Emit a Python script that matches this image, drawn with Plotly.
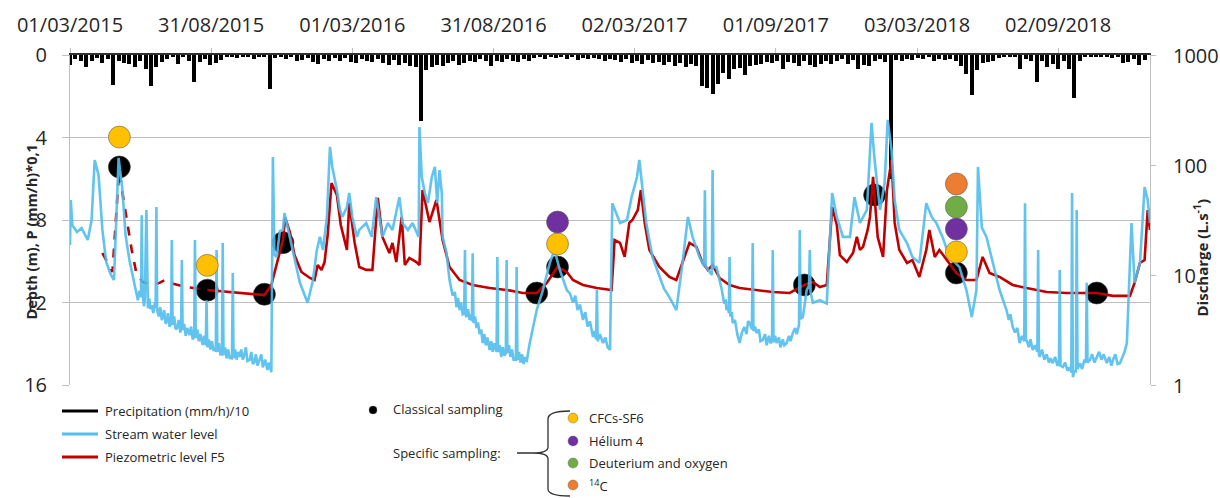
import math
import plotly.graph_objects as go
import pandas as pd

START = pd.Timestamp("2015-03-01")

# ---------------- data ----------------
tick_dates = ["2015-03-01", "2015-08-31", "2016-03-01", "2016-08-31",
              "2017-03-02", "2017-09-01", "2018-03-03", "2018-09-02"]
tick_labels = ["01/03/2015", "31/08/2015", "01/03/2016", "31/08/2016",
               "02/03/2017", "01/09/2017", "03/03/2018", "02/09/2018"]
left_ticks = [0, 4, 8, 12, 16]
right_ticks = [1, 10, 100, 1000]

# weekly precipitation, (mm/h)/10, one value per week from 2015-03-01
precip_week = [
    0.5, 0.2, 0.3, 0.6, 0.3, 0.15, 0.4, 0.2, 1.45, 0.3,
    0.4, 0.45, 0.6, 0.3, 0.7, 1.5, 0.6, 0.35, 0.2, 0.1,
    0.45, 0.1, 0.3, 1.3, 0.35, 0.2, 0.5, 0.4, 0.25, 0.1,
    0.1, 0.15, 0.05, 0.1, 0.2, 0.1, 0.05, 1.65, 0.15, 0.05,
    0.2, 0.1, 0.3, 0.25, 0.15, 0.35, 0.45, 0.2, 0.3, 0.15,
    0.3, 0.15, 0.35, 0.4, 0.2, 0.3, 0.35, 0.2, 0.4, 0.5,
    0.25, 0.5, 0.4, 0.55, 0.6, 3.2, 0.75, 0.6, 0.5, 0.55,
    0.4, 0.3, 0.5, 0.4, 0.3, 0.35, 0.2, 0.3, 0.55, 0.3,
    0.35, 0.2, 0.3, 0.35, 0.2, 0.3, 0.15, 0.1, 0.2, 0.1,
    0.15, 0.1, 0.2, 0.1, 0.25, 0.15, 0.2, 0.15, 0.2, 0.3,
    0.2, 0.25, 0.35, 0.2, 0.4, 0.3, 0.45, 0.25, 0.4, 0.35,
    0.5, 0.35, 0.55, 0.4, 0.6, 0.45, 0.55, 1.5, 1.6, 1.9,
    1.4, 0.85, 1.15, 0.7, 0.65, 0.95, 0.55, 0.5, 0.45, 0.35,
    0.4, 0.3, 0.7, 0.35, 0.4, 0.55, 0.3, 0.5, 0.6, 0.45,
    0.3, 0.45, 0.3, 0.2, 0.45, 0.25, 0.7, 0.5, 0.55, 0.3,
    0.2, 0.35, 6.0, 0.25, 0.3, 0.2, 0.25, 0.15, 0.2, 0.1,
    0.3, 0.2, 0.25, 0.2, 0.3, 0.55, 0.9, 1.95, 0.75, 0.4,
    0.35, 0.3, 0.15, 0.1, 0.05, 0.1, 0.7, 0.2, 0.3, 1.3,
    0.3, 0.6, 0.45, 0.7, 0.3, 0.7, 2.1, 0.3, 0.1, 0.1,
    0.05, 0.1, 0.05, 0.15, 0.1, 0.4, 0.35, 0.2, 0.5, 0.25,
]

# stream water level as discharge (L/s): (days since 2015-03-01, value)
stream_points = [
    (0, 18.7), (1, 48), (3, 28.5), (9, 24.6), (15, 26.7), (23, 20.8), (28, 31.6), (32, 111), (37, 81),
    (42, 25.7), (47, 13.1), (53, 10), (57, 9.0), (60, 39), (63, 116), (68, 59), (72, 23.1), (77, 13.7),
    (82, 9.0), (88, 5.9), (90, 7.2), (92, 6.3), (93, 35), (94, 6.6), (96, 5.2), (97, 6.0), (99, 39),
    (101, 5.0), (103, 6.1), (104, 4.9), (106, 5.3), (108, 4.5), (110, 5.6), (111, 5.0), (112, 41.5),
    (113, 4.8), (115, 4.2), (117, 5.1), (119, 3.9), (120, 4.07), (122, 4.8), (124, 3.6), (125, 3.74),
    (127, 4.5), (129, 3.4), (131, 3.6), (132, 20.8), (133, 3.51), (135, 4.2), (137, 3.2), (139, 3.3),
    (141, 3.9), (143, 3.0), (144, 3.2), (145, 13.7), (146, 3.16), (148, 3.6), (150, 2.8), (152, 3.3),
    (155, 2.85), (157, 3.4), (159, 2.6), (161, 2.75), (162, 20.8), (163, 2.67), (165, 3.2), (167, 2.5),
    (169, 2.9), (172, 2.31), (174, 2.8), (176, 2.3), (177, 5.9), (178, 2.2), (180, 2.6), (182, 2.1),
    (184, 2.5), (186, 2.08), (189, 2.05), (190, 16.9), (191, 2.0), (193, 2.4), (195, 1.9), (197, 1.9),
    (198, 19.5), (199, 1.87), (201, 2.2), (203, 1.75), (205, 2.1), (207, 1.76), (210, 1.75), (211, 10.4),
    (212, 1.76), (214, 2.1), (216, 1.7), (218, 2.0), (220, 1.80), (222, 2.1), (224, 1.7), (226, 1.87),
    (228, 2.2), (230, 1.65), (233, 1.69), (235, 2.0), (237, 1.55), (239, 1.62), (241, 1.9), (243, 1.5),
    (246, 1.69), (248, 1.9), (250, 1.45), (251, 1.52), (253, 1.7), (256, 1.37), (258, 1.6), (261, 1.31),
    (263, 118), (265, 15.2), (268, 14.6), (272, 25), (276, 25.7), (278, 36.6), (285, 22.2), (289, 16.9),
    (298, 8.5), (308, 5.6), (315, 9.0), (320, 16.9), (324, 22.2), (328, 16.9), (333, 33.7), (337, 146),
    (340, 96), (346, 59), (350, 39), (353, 33.7), (359, 41.5), (362, 55.6), (366, 33.7), (372, 22.2),
    (375, 25.7), (384, 29.7), (391, 22.2), (397, 51), (401, 33.7), (405, 22.2), (412, 29.7), (418, 25.7),
    (427, 51), (431, 29.7), (438, 25.7), (444, 29.7), (452, 22.2), (453, 221), (456, 77.8), (460, 55.6),
    (464, 45), (469, 77.8), (473, 96), (476, 45), (479, 90), (482, 55), (483, 22.2), (488, 16), (492, 9.0),
    (496, 6.5), (499, 7.0), (501, 5.1), (503, 6.2), (505, 4.8), (507, 5.6), (509, 4.4), (511, 4.5),
    (512, 16.9), (513, 4.3), (514, 4.15), (516, 4.9), (518, 3.9), (520, 4.4), (521, 3.8), (522, 15.8),
    (523, 3.66), (525, 4.2), (527, 3.3), (529, 3.7), (531, 2.9), (533, 3.2), (535, 2.41), (537, 2.9),
    (539, 2.3), (541, 2.7), (544, 2.08), (546, 2.5), (548, 2.0), (550, 2.4), (553, 2.0), (554, 14.6),
    (555, 2.0), (557, 2.3), (559, 1.8), (561, 2.2), (563, 1.85), (565, 1.95), (566, 13.7), (567, 1.95),
    (569, 2.3), (571, 1.8), (573, 2.1), (575, 1.7), (578, 1.7), (579, 11.8), (580, 1.69), (582, 2.0),
    (584, 1.6), (586, 1.9), (588, 1.55), (590, 1.8), (592, 1.62), (594, 2.0), (596, 2.41), (605, 4.8),
    (613, 7.3), (622, 12.9), (628, 16.9), (635, 11.1), (644, 7.3), (648, 6.8), (652, 5.6), (655, 6.5),
    (658, 4.8), (661, 5.4), (665, 3.9), (668, 4.6), (671, 3.4), (674, 3.8), (678, 2.73), (680, 3.1),
    (682, 2.6), (683, 7.3), (684, 2.5), (687, 2.9), (691, 2.41), (694, 2.7), (697, 2.2), (700, 2.08),
    (703, 45), (713, 29.7), (722, 31.6), (728, 51), (735, 77.8), (738, 111), (742, 59), (747, 29.7),
    (755, 14.6), (764, 9.6), (770, 7.5), (777, 6.3), (786, 4.8), (794, 12.9), (801, 33.7), (807, 22.2),
    (816, 14.6), (822, 12), (823, 59), (824, 12), (827, 11.1), (832, 10), (833, 90), (834, 11.8),
    (838, 11.8), (845, 7.3), (848, 5.5), (850, 6.0), (851, 4.8), (853, 5.2), (854, 4.5), (855, 14.6),
    (856, 4.2), (858, 4.6), (859, 3.66), (862, 3.9), (865, 2.9), (868, 2.41), (871, 3.0), (874, 3.37),
    (877, 2.9), (879, 3.8), (881, 3.66), (884, 3.2), (885, 19.5), (886, 3.1), (888, 3.4), (890, 2.97),
    (893, 3.2), (895, 2.5), (898, 2.56), (901, 2.9), (903, 2.3), (906, 2.8), (908, 2.4), (910, 2.5),
    (911, 16.9), (912, 2.45), (914, 2.8), (916, 2.41), (919, 2.7), (921, 2.2), (924, 2.6), (926, 2.3),
    (929, 2.41), (932, 2.8), (934, 2.5), (937, 2.97), (940, 3.3), (942, 2.9), (945, 3.5), (946, 25.7),
    (947, 4.0), (950, 4.15), (955, 7.3), (958, 8), (959, 16.9), (960, 7), (963, 5.6), (972, 5.9),
    (981, 5.5), (988, 55.6), (994, 33.7), (1002, 22.2), (1011, 22.2), (1017, 51), (1024, 29.7),
    (1033, 39), (1039, 241), (1043, 111), (1050, 39), (1056, 68.6), (1060, 257), (1065, 137), (1069, 48),
    (1075, 25.7), (1085, 19.5), (1092, 14.6), (1101, 12.9), (1110, 45), (1117, 33.7), (1123, 29.7),
    (1131, 22.2), (1140, 14.6), (1153, 11.8), (1162, 7.3), (1169, 4.15), (1175, 7.3), (1177, 96),
    (1182, 27), (1188, 22.2), (1196, 12.9), (1205, 7.3), (1214, 4.8), (1217, 3.9), (1219, 4.4),
    (1222, 3.37), (1225, 3.0), (1228, 3.3), (1231, 2.41), (1234, 2.8), (1237, 2.5), (1238, 45),
    (1239, 2.5), (1240, 2.56), (1243, 2.2), (1245, 2.6), (1248, 2.08), (1251, 2.3), (1254, 2.0),
    (1255, 16.9), (1256, 1.9), (1257, 1.80), (1260, 2.1), (1263, 1.7), (1266, 1.9), (1269, 1.6),
    (1271, 1.75), (1274, 1.58), (1277, 1.8), (1280, 1.5), (1282, 1.55), (1283, 11.1), (1284, 1.5),
    (1287, 1.46), (1290, 1.6), (1293, 1.35), (1296, 1.45), (1298, 1.3), (1299, 55.6), (1300, 1.18),
    (1302, 1.35), (1304, 1.3), (1305, 39), (1306, 1.4), (1309, 1.58), (1312, 1.4), (1315, 1.7),
    (1317, 1.6), (1318, 8.5), (1319, 1.6), (1322, 1.69), (1325, 1.9), (1328, 1.6), (1331, 1.80),
    (1334, 2.0), (1337, 1.7), (1340, 1.9), (1344, 1.58), (1347, 1.8), (1350, 1.5), (1352, 1.69),
    (1355, 1.9), (1358, 1.55), (1361, 1.58), (1364, 1.8), (1367, 2.0), (1370, 2.41), (1374, 11.8),
    (1376, 29.7), (1380, 8.5), (1387, 12.9), (1393, 63), (1397, 48), (1400, 29.7),
]

# piezometric level F5 (depth, m) -- reconstructed (dashed) part, then measured part
piezo_dash_day = [42, 51, 55, 62, 64, 68, 73, 80, 86, 94, 107, 116, 123, 129, 151, 168, 178]
piezo_dash_depth = [9.60, 10.28, 10.52, 6.55, 5.6, 6.69, 7.85, 9.45, 10.57, 11.0,
                    11.15, 11.05, 10.91, 11.05, 11.25, 11.35, 11.39]
piezo_day = [
    178, 207, 233, 252, 261, 269, 276, 279, 285, 291, 300, 311, 317, 321, 326, 330, 334, 339, 346, 351,
    359, 362, 369, 375, 384, 392, 399, 405, 414, 418, 423, 430, 434, 440, 449, 453, 457, 466, 475, 483,
    492, 505, 522, 544, 566, 587, 605, 618, 632, 644, 652, 665, 683, 702, 706, 713, 719, 725, 729, 736,
    740, 745, 751, 764, 777, 786, 794, 803, 812, 820, 827, 833, 842, 855, 868, 890, 911, 933, 952, 963,
    972, 981, 988, 994, 998, 1007, 1015, 1020, 1024, 1028, 1034, 1037, 1041, 1047, 1054, 1059, 1065, 1069, 1075, 1085,
    1092, 1101, 1110, 1114, 1121, 1127, 1134, 1140, 1149, 1162, 1175, 1183, 1192, 1205, 1222, 1240, 1266, 1292, 1331, 1352,
    1374, 1380, 1387, 1393, 1397, 1400,
]
piezo_depth = [
    11.39, 11.49, 11.59, 11.64, 11.15, 10.04, 8.97, 7.90, 8.58, 9.70, 10.52, 10.81, 10.91, 10.18, 10.42, 10.04, 8.73, 6.21, 6.79, 8.24,
    9.45, 7.18, 9.11, 10.28, 10.42, 10.42, 6.93, 8.82, 9.60, 9.11, 10.04, 7.85, 10.18, 9.84, 10.04, 10.18, 6.55, 8.10, 7.03, 8.97,
    10.28, 10.91, 11.15, 11.30, 11.39, 11.54, 11.54, 11.05, 10.28, 10.52, 10.91, 11.15, 11.30, 11.39, 8.97, 9.11, 9.79, 8.14, 8.0, 7.52,
    6.55, 8.14, 9.45, 10.28, 10.76, 10.91, 10.08, 9.11, 9.30, 10.08, 10.42, 10.18, 10.81, 11.15, 11.30, 11.39, 11.49, 11.54, 11.15, 11.0,
    11.25, 11.15, 7.37, 8.24, 9.70, 10.04, 9.60, 8.82, 9.45, 9.30, 8.48, 7.85, 5.91, 8.82, 9.79, 6.55, 5.09, 8.14, 9.45, 10.08,
    9.94, 10.76, 9.45, 8.48, 9.79, 9.45, 9.79, 10.08, 10.57, 10.91, 10.91, 9.79, 10.57, 10.76, 11.15, 11.30, 11.49, 11.54, 11.54, 11.68,
    11.68, 11.05, 10.08, 9.94, 7.52, 8.48,
]

# sampling campaigns (day, depth)
classical_day = [64, 178, 252, 276, 605, 632, 952, 1043, 1149, 1331]
classical_depth = [5.43, 11.4, 11.6, 9.1, 11.54, 10.28, 11.15, 6.79, 10.57, 11.54]
cfc_day = [64, 178, 632, 1149]
cfc_depth = [3.98, 10.2, 9.16, 9.55]
helium_day = [632, 1149]
helium_depth = [8.1, 8.44]
deut_day = [1149]
deut_depth = [7.37]
c14_day = [1149]
c14_depth = [6.25]

# ---------------- styles ----------------
FONT = "Open Sans"
TXT = "#262626"
GRID = "#BFBFBF"
BLUE = "rgba(80,188,236,0.9)"
RED = "#C00000"
YELLOW = "#FFC000"
PURPLE = "#7030A0"
GREEN = "#70AD47"
ORANGE = "#ED7D31"


def dates(days):
    return [START + pd.Timedelta(days=int(d)) for d in days]


precip_day = [7 * i for i in range(len(precip_week))]
stream_day = [d for d, q in stream_points]
stream_q = [q for d, q in stream_points]

fig = go.Figure()

fig.add_trace(go.Bar(
    x=dates(precip_day), y=precip_week, base=0, yaxis="y",
    width=5.0 * 86400000, marker=dict(color="black", line=dict(width=0)),
    showlegend=False, hoverinfo="skip"))

fig.add_trace(go.Scatter(
    x=dates(classical_day), y=classical_depth, yaxis="y", mode="markers",
    marker=dict(size=22, color="black", line=dict(color="rgba(60,60,60,0.6)", width=1)),
    showlegend=False))

fig.add_trace(go.Scatter(
    x=dates(piezo_dash_day), y=piezo_dash_depth, yaxis="y", mode="lines",
    line=dict(color=RED, width=2.6, dash="dash"), showlegend=False))
fig.add_trace(go.Scatter(
    x=dates(piezo_day), y=piezo_depth, yaxis="y", mode="lines",
    line=dict(color=RED, width=2.6), showlegend=False))

fig.add_trace(go.Scatter(
    x=dates(stream_day), y=stream_q, yaxis="y2", mode="lines",
    line=dict(color=BLUE, width=2.6), showlegend=False))

for d, v, c in [(cfc_day, cfc_depth, YELLOW), (helium_day, helium_depth, PURPLE),
                (deut_day, deut_depth, GREEN), (c14_day, c14_depth, ORANGE)]:
    fig.add_trace(go.Scatter(
        x=dates(d), y=v, yaxis="y3", mode="markers",
        marker=dict(size=22, color=c, line=dict(color="rgba(90,90,90,0.55)", width=1)),
        showlegend=False))

# ---------------- layout ----------------
L, R, T, B = 70, 70, 55, 113
W, H = 1220, 498
PW, PH = W - L - R, H - T - B


def px(x):
    return (x - L) / PW


def py(y):
    return (H - B - y) / PH


fig.update_layout(
    width=W, height=H, margin=dict(l=L, r=R, t=T, b=B, autoexpand=False),
    paper_bgcolor="white", plot_bgcolor="white",
    font=dict(family=FONT, color=TXT),
    bargap=0,
    xaxis=dict(
        type="date", side="top", automargin=False,
        range=[START, START + pd.Timedelta(days=1400)],
        tickvals=tick_dates, ticktext=tick_labels,
        ticks="outside", ticklen=5, tickcolor=GRID,
        tickfont=dict(size=20, color=TXT), ticklabelstandoff=8,
        showgrid=False, showline=True, linecolor="#303030", linewidth=1.5,
        zeroline=False),
    yaxis=dict(
        range=[16, 0], tickvals=left_ticks, automargin=False,
        ticks="outside", ticklen=7, tickcolor=GRID,
        tickfont=dict(size=20, color=TXT), ticklabelstandoff=11,
        showgrid=True, gridcolor=GRID, gridwidth=1.3,
        showline=True, linecolor=GRID, zeroline=False),
    yaxis2=dict(
        type="log", range=[0, 3], overlaying="y", side="right", automargin=False,
        tickvals=right_ticks, showticklabels=False,
        ticks="outside", ticklen=5, tickcolor=GRID,
        showgrid=False, showline=True, linecolor=GRID, zeroline=False),
    yaxis3=dict(range=[16, 0], overlaying="y", visible=False, automargin=False),
)

ann = []
shapes = []

# right-axis tick labels
for v in right_ticks:
    ann.append(dict(x=px(1171), xref="paper", y=math.log10(v), yref="y2",
                    showarrow=False, xanchor="left", yanchor="middle",
                    text=str(v), font=dict(size=20, color=TXT)))

# axis titles
ann.append(dict(x=px(19), y=py(232), xref="paper", yref="paper", showarrow=False,
                text="<b>Depth (m), P (mm/h)*0,1</b>", textangle=-90,
                font=dict(size=14.5, color=TXT)))
ann.append(dict(x=px(1213), y=py(258), xref="paper", yref="paper", showarrow=False,
                text="<b>Discharge (L.s<sup>-1</sup>)</b>", textangle=-90,
                font=dict(size=15, color=TXT)))

# line legend
for yy, col, label in [(411, "black", "Precipitation (mm/h)/10"),
                       (434, "#56BDEB", "Stream water level"),
                       (457, RED, "Piezometric level F5")]:
    shapes.append(dict(type="line", xref="paper", yref="paper",
                       x0=px(62), x1=px(98), y0=py(yy), y1=py(yy),
                       line=dict(color=col, width=3)))
    ann.append(dict(x=px(103), y=py(yy), xref="paper", yref="paper", showarrow=False,
                    xanchor="left", yanchor="middle", text=label,
                    font=dict(size=13, color=TXT)))


def dot(xc, yc, r, col):
    return dict(type="circle", xref="paper", yref="paper",
                xsizemode="pixel", ysizemode="pixel",
                xanchor=px(xc), yanchor=py(yc), x0=-r, x1=r, y0=-r, y1=r,
                fillcolor=col, line=dict(color="rgba(90,90,90,0.5)", width=0.8))


shapes.append(dot(373, 410, 4, "black"))
ann.append(dict(x=px(391), y=py(409), xref="paper", yref="paper", showarrow=False,
                xanchor="left", yanchor="middle", text="Classical sampling",
                font=dict(size=13, color=TXT)))
ann.append(dict(x=px(391), y=py(453), xref="paper", yref="paper", showarrow=False,
                xanchor="left", yanchor="middle", text="Specific sampling:",
                font=dict(size=13, color=TXT)))

# brace
pts = ("M {a},{b} L {c},{b} "
       "M {e},{f} Q {g},{f} {g},{h} L {g},{i} Q {g},{b} {c},{b} "
       "Q {g},{b} {g},{j} L {g},{k} Q {g},{m} {e},{m}")
path = pts.format(
    a=px(517), b=py(453), c=px(533),
    e=px(570), f=py(411), g=px(548), h=py(419), i=py(447),
    j=py(459), k=py(489), m=py(496))
shapes.append(dict(type="path", xref="paper", yref="paper", path=path,
                   line=dict(color="#303030", width=1.3)))

for yy, col, label in [(418, YELLOW, "CFCs-SF6"), (441, PURPLE, "Hélium 4"),
                       (463, GREEN, "Deuterium and oxygen"), (485, ORANGE, "<sup>14</sup>C")]:
    shapes.append(dot(573, yy, 5, col))
    ann.append(dict(x=px(587), y=py(yy), xref="paper", yref="paper", showarrow=False,
                    xanchor="left", yanchor="middle", text=label,
                    font=dict(size=13, color=TXT)))

fig.update_layout(annotations=ann, shapes=shapes)

fig.write_html("out.html", config={"displayModeBar": False},
               post_script="document.body.style.margin='0';")
